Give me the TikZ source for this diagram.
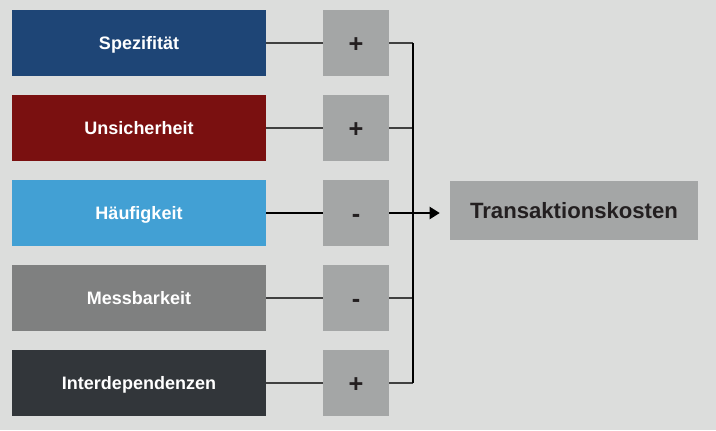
\documentclass[tikz,border=0pt]{standalone}
\usepackage{fontspec}
\setmainfont{Liberation Sans}
\usetikzlibrary{arrows.meta}

\definecolor{bggray}{HTML}{DCDDDC}
\definecolor{signgray}{HTML}{A4A6A6}
\definecolor{spezblue}{HTML}{1E4576}
\definecolor{unsred}{HTML}{7A1010}
\definecolor{haeufblue}{HTML}{42A0D4}
\definecolor{messgray}{HTML}{7F8080}
\definecolor{interdark}{HTML}{32363A}
\definecolor{inkdark}{HTML}{231F20}

\tikzset{
  factor/.style={fill=#1, text=white, inner sep=0pt, minimum width=190.5pt,
    minimum height=49.5pt, text height=9.67pt, text depth=0pt,
    font=\bfseries\fontsize{13.5}{16}\selectfont},
  signbox/.style={fill=signgray, text=inkdark, inner sep=0pt, minimum width=49.5pt,
    minimum height=49.5pt, text height=13.6pt, text depth=0pt,
    font=\bfseries\fontsize{19}{22}\selectfont},
  costbox/.style={fill=signgray, text=inkdark, inner sep=0pt, minimum width=186pt,
    minimum height=44.25pt, text height=11.9pt, text depth=0pt,
    font=\bfseries\fontsize{16.6}{20}\selectfont},
  link/.style={draw=black!75, line width=0.9pt},
}

\begin{document}
\begin{tikzpicture}[x=0.75pt, y=-0.75pt]
    \fill[bggray] (0,0) rectangle (716,430);
    \useasboundingbox (0,0) rectangle (716,430);
    % draw factors
    \node[factor=spezblue] (spez) at (139,43) {Spezifität};
    \node[factor=unsred] (uns) at (139,128) {Unsicherheit};
    \node[factor=haeufblue] (haeuf) at (139,213) {Häufigkeit};
    \node[factor=messgray] (mess) at (139,298) {Messbarkeit};
    \node[factor=interdark] (inter) at (139,383) {Interdependenzen};
    % draw signs
    \node[signbox] (p1) at (356,43) {+};
    \node[signbox] (p2) at (356,128) {+};
    \node[signbox] (p3) at (356,213) {-};
    \node[signbox] (p4) at (356,298) {-};
    \node[signbox] (p5) at (356,383) {+};
    % target
    \node[costbox] (kosten) at (574,210.5) {Transaktionskosten};
    % joints on the collecting line
    \coordinate (j1) at (413,43);
    \coordinate (j2) at (413,128);
    \coordinate (j4) at (413,298);
    \coordinate (j5) at (413,383);
    % draw connectors
    \draw[link] (spez.east) -- (p1.west);
    \draw[link] (uns.east) -- (p2.west);
    \draw[link] (mess.east) -- (p4.west);
    \draw[link] (inter.east) -- (p5.west);
    \draw[black, line width=1.5pt] (haeuf.east) -- (p3.west);
    \draw[link] (p1.east) -- (j1);
    \draw[link] (p2.east) -- (j2);
    \draw[link] (p4.east) -- (j4);
    \draw[link] (p5.east) -- (j5);
    \draw[black, line width=1.1pt] (j1) -- (j5);
    \draw[black, line width=1.5pt, -{Triangle[length=7.5pt,width=9pt]},
      shorten >=7.5pt] (p3.east) -- (p3.east -| kosten.west);
\end{tikzpicture}
\end{document}
